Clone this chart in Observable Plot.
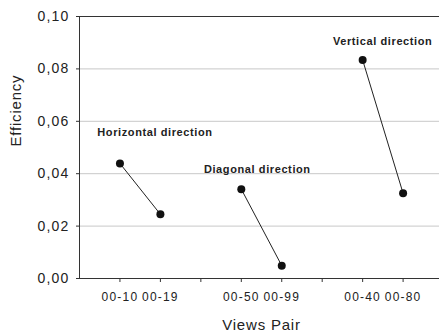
<!DOCTYPE html>
<html>
<head>
<meta charset="utf-8">
<script src="https://cdn.jsdelivr.net/npm/d3@7"></script>
<script src="https://cdn.jsdelivr.net/npm/@observablehq/plot@0.6"></script>
<style>
  html, body { margin: 0; padding: 0; background: #fff; }
</style>
</head>
<body>
<div id="chart"></div>
<script>
const pairs = ["00-10", "00-19", "00-50", "00-99", "00-40", "00-80"];
const efficiency = [0.0439, 0.0245, 0.0341, 0.0049, 0.0834, 0.0325];
const directions = ["Horizontal direction", "Horizontal direction", "Diagonal direction", "Diagonal direction", "Vertical direction", "Vertical direction"];
const xSlots = ["00-10", "00-19", "", "00-50", "00-99", "", "00-40", "00-80"];
const yTicks = [0, 0.02, 0.04, 0.06, 0.08, 0.10];
const xTitle = "Views Pair";
const yTitle = "Efficiency";

const data = pairs.map((p, i) => ({
  pair: p,
  pos: xSlots.indexOf(p) + 1,
  value: efficiency[i],
  dir: directions[i]
}));
const firstOf = d => data.find(e => e.dir === d);
const fmtY = d => d.toFixed(2).replace(".", ",");

const font = "'Liberation Sans', Arial, Helvetica, sans-serif";

const chart = Plot.plot({
  width: 439,
  height: 334,
  marginLeft: 79,
  marginRight: 0,
  marginTop: 16,
  marginBottom: 56,
  style: { fontFamily: font, color: "#222", background: "#fff", overflow: "visible" },
  x: { domain: [0, 8.9] },
  y: { domain: [0, 0.1] },
  marks: [
    Plot.gridY(yTicks.slice(1, -1), { stroke: "#c8c8c8", strokeOpacity: 1 }),
    Plot.ruleY([yTicks[yTicks.length - 1]], { stroke: "#333" }),
    Plot.axisY({
      ticks: yTicks,
      tickFormat: fmtY,
      tickSize: 3,
      tickPadding: 7,
      fontSize: 14,
      stroke: "#333",
      label: null
    }),
    Plot.axisX({
      ticks: d3.range(1, xSlots.length + 1),
      tickFormat: i => xSlots[i - 1],
      tickSize: 4,
      tickPadding: 10,
      fontSize: 12,
      stroke: "#333",
      label: null
    }),
    Plot.ruleY([0], { stroke: "#333" }),
    Plot.ruleX([0], { stroke: "#333" }),
    Plot.line(data, { x: "pos", y: "value", z: "dir", stroke: "#222", strokeWidth: 1 }),
    Plot.dot(data, { x: "pos", y: "value", r: 4, fill: "#111", stroke: "none" }),
    Plot.text([firstOf("Horizontal direction")], { x: "pos", y: "value", text: "dir", dx: 35, dy: -31, fontWeight: "bold", fontSize: 11, fill: "#222" }),
    Plot.text([firstOf("Diagonal direction")], { x: "pos", y: "value", text: "dir", dx: 16, dy: -20, fontWeight: "bold", fontSize: 11, fill: "#222" }),
    Plot.text([firstOf("Vertical direction")], { x: "pos", y: "value", text: "dir", dx: 20, dy: -19, fontWeight: "bold", fontSize: 11, fill: "#222" }),
    Plot.text([yTitle], { frameAnchor: "left", text: d => d, rotate: -90, dx: -63, dy: -1, fontSize: 15, fill: "#222" }),
    Plot.text([xTitle], { frameAnchor: "bottom", lineAnchor: "middle", text: d => d, dx: 2, dy: 46.5, fontSize: 15, fill: "#222" })
  ]
});

// letter spacing tweaks
const yLabels = new Set(yTicks.map(fmtY));
const xLabels = new Set(xSlots.filter(s => s));
const dirs = new Set(directions);
d3.select(chart).selectAll("text").each(function () {
  const t = this.textContent;
  if (dirs.has(t)) this.setAttribute("letter-spacing", "0.6");
  else if (t === xTitle || t === yTitle) this.setAttribute("letter-spacing", "0.8");
  else if (yLabels.has(t) || xLabels.has(t)) this.setAttribute("letter-spacing", "1.2");
});

document.getElementById("chart").appendChild(chart);
</script>
</body>
</html>
